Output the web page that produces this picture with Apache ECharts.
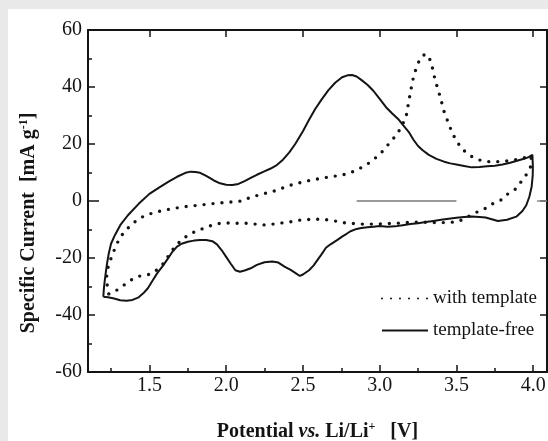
<!DOCTYPE html>
<html>
<head>
<meta charset="utf-8">
<script src="https://cdn.jsdelivr.net/npm/echarts@6/dist/echarts.min.js"></script>
<style>
  html, body { margin: 0; padding: 0; background: #e9e9e9; }
  #chart { width: 548px; height: 441px; }
</style>
</head>
<body>
<div id="chart"></div>
<script>
// Cyclic voltammograms: specific current vs. potential (one closed loop per sample)

// template-free electrode: anodic sweep 1.2 -> 4.0 V, then cathodic sweep back
const freePotential = [
  1.200, 1.203, 1.208, 1.216, 1.224, 1.235, 1.250, 1.275, 1.31, 1.36, 1.43, 1.50, 1.56, 1.625, 1.68,
  1.735, 1.77, 1.80, 1.83, 1.87, 1.92, 1.96, 2.00, 2.04, 2.08, 2.12, 2.16, 2.20, 2.245, 2.29,
  2.33, 2.37, 2.41, 2.45, 2.50, 2.54, 2.58, 2.62, 2.665, 2.71, 2.755, 2.79, 2.82, 2.85, 2.88,
  2.92, 2.96, 3.00, 3.04, 3.08, 3.12, 3.15, 3.19, 3.22, 3.25, 3.28, 3.32, 3.37, 3.42, 3.46,
  3.50, 3.55, 3.60, 3.65, 3.70, 3.75, 3.80, 3.85, 3.90, 3.94, 3.97, 3.995,
  3.998, 3.997, 3.99, 3.975, 3.955, 3.93, 3.89, 3.83, 3.77, 3.73, 3.69, 3.65, 3.60, 3.55, 3.50,
  3.45, 3.40, 3.35, 3.30, 3.25, 3.20, 3.15, 3.10, 3.05, 3.00, 2.96, 2.92, 2.88, 2.85, 2.81,
  2.785, 2.76, 2.72, 2.68, 2.65, 2.62, 2.60, 2.57, 2.54, 2.50, 2.48, 2.45, 2.42, 2.38, 2.34,
  2.30, 2.25, 2.20, 2.16, 2.12, 2.09, 2.06, 2.03, 2.00, 1.97, 1.94, 1.91, 1.87, 1.83, 1.79,
  1.75, 1.71, 1.68, 1.65, 1.62, 1.59, 1.55, 1.52, 1.49, 1.46, 1.43, 1.39, 1.35, 1.31, 1.27,
  1.23, 1.20
];
const freeCurrent = [
  -33.6, -31.0, -28.5, -25.0, -22.0, -18.5, -15.0, -12.0, -8.5, -5.0, -1.0, 2.5, 4.6, 6.8, 8.5,
  9.9, 10.3, 10.2, 9.9, 8.8, 7.2, 6.2, 5.7, 5.6, 6.0, 7.0, 8.1, 9.2, 10.3, 11.4,
  12.6, 14.5, 17.0, 20.0, 24.5, 28.5, 32.3, 35.5, 38.8, 41.5, 43.4, 44.1, 44.2, 43.7, 42.5,
  40.8, 38.6, 35.8, 33.0, 30.8, 28.8, 26.8, 24.2, 21.5, 19.3, 17.8, 16.2, 14.8, 13.8, 13.2,
  12.8, 12.3, 11.8, 11.9, 12.2, 12.4, 12.8, 13.4, 14.2, 14.8, 15.4, 16.2,
  12.0, 9.0, 5.0, 1.5, -1.5, -3.5, -5.5, -6.6, -7.0, -6.4, -5.8, -5.6, -5.4, -5.6, -5.9,
  -6.2, -6.6, -7.0, -7.4, -7.8, -8.1, -8.5, -8.9, -9.0, -8.8, -9.0, -9.2, -9.5, -9.8, -10.6,
  -11.5, -12.3, -13.8, -15.2, -16.4, -18.8, -20.3, -22.6, -24.3, -25.8, -26.3, -25.2, -24.2, -23.0, -21.6,
  -21.2, -21.5, -22.4, -23.6, -24.4, -24.8, -24.3, -22.0, -19.6, -17.2, -15.2, -14.1, -13.7, -13.7, -13.9,
  -14.3, -15.0, -16.0, -17.8, -20.2, -22.6, -25.4, -28.0, -30.6, -32.4, -33.8, -34.7, -35.0, -34.8, -34.2,
  -33.8, -33.6
];

// electrode prepared with template
const tplPotential = [
  1.235, 1.222, 1.222, 1.24, 1.262, 1.285, 1.31, 1.358, 1.414, 1.473, 1.53, 1.59, 1.647, 1.705, 1.76,
  1.82, 1.88, 1.935, 1.99, 2.05, 2.113, 2.157, 2.222, 2.276, 2.334, 2.391, 2.45, 2.508, 2.569, 2.623,
  2.677, 2.732, 2.797, 2.851, 2.912, 2.97, 3.02, 3.068, 3.116, 3.145, 3.172, 3.198, 3.216, 3.242, 3.268,
  3.296, 3.32, 3.336, 3.361, 3.394, 3.42, 3.448, 3.47, 3.496, 3.539, 3.593, 3.649, 3.708, 3.773, 3.84,
  3.90, 3.95, 3.985,
  3.99, 3.98, 3.968, 3.946, 3.926, 3.905, 3.882, 3.824, 3.789, 3.73, 3.672, 3.617, 3.556, 3.506, 3.454,
  3.40, 3.33, 3.22, 3.112, 2.96, 2.873, 2.808, 2.764, 2.699, 2.64, 2.591, 2.53, 2.482, 2.417, 2.36,
  2.308, 2.243, 2.189, 2.135, 2.07, 2.015, 1.96, 1.901, 1.842, 1.788, 1.733, 1.675, 1.631, 1.597, 1.565,
  1.538, 1.51, 1.484, 1.43, 1.371, 1.315, 1.256, 1.235
];
const tplCurrent = [
  -32.6, -28.5, -24.8, -21.6, -18.4, -15.4, -12.6, -9.6, -6.9, -5.0, -4.1, -3.3, -2.7, -2.2, -1.8,
  -1.5, -1.1, -0.8, -0.5, -0.3, 0.1, 1.3, 2.2, 3.0, 3.8, 5.1, 6.0, 6.8, 7.5, 8.0,
  8.5, 8.9, 9.6, 10.9, 12.6, 15.0, 17.5, 20.6, 23.6, 26.5, 29.5, 37.5, 42.5, 47.5, 50.2,
  51.6, 50.5, 48.5, 42.5, 36.6, 31.3, 27.3, 24.3, 21.4, 18.1, 15.8, 14.4, 13.8, 13.8, 14.1,
  14.6, 15.3, 15.8,
  13.5, 11.5, 10.3, 8.5, 7.1, 5.6, 4.1, 2.1, 0.3, -1.1, -3.2, -4.2, -6.1, -7.3, -7.5,
  -7.6, -7.5, -7.4, -7.8, -8.1, -8.1, -7.8, -7.6, -6.9, -6.5, -6.4, -6.5, -6.7, -7.3, -7.7,
  -8.1, -8.4, -8.1, -7.8, -7.8, -7.7, -7.8, -8.6, -9.8, -11.0, -12.7, -15.4, -18.6, -21.6, -23.4,
  -24.6, -25.5, -26.0, -26.4, -28.0, -30.3, -32.4, -32.6
];

// reference segment drawn along the zero-current level
const zeroSegment = [2.85, 3.5];

// axis ticks
const xMajorTicks = [1.5, 2.0, 2.5, 3.0, 3.5, 4.0];
const xMinorTicks = [1.25, 1.75, 2.25, 2.75, 3.25, 3.75];
const xLabels = ['1.5', '2.0', '2.5', '3.0', '3.5', '4.0'];

const seriesNames = ['with template', 'template-free'];

const zip = (xs, ys) => xs.map((x, i) => [x, ys[i]]);

const SERIF = '"Liberation Serif", "DejaVu Serif", serif';
const INK = '#141414';
const X_MIN = 1.1, X_MAX = 4.09;

const chart = echarts.init(document.getElementById('chart'), null, { renderer: 'canvas' });

const frameLine = { show: true, onZero: false, lineStyle: { color: INK, width: 2 } };
const noLabel = { show: false };
const noSplit = { show: false };

chart.setOption({
  backgroundColor: '#e9e9e9',
  animation: false,
  graphic: [{
    type: 'rect', z: -100, silent: true,
    shape: { x: 8, y: 9, width: 540, height: 432 },
    style: { fill: '#ffffff' }
  }],
  grid: { left: 88, right: 1, top: 30, bottom: 69, containLabel: false, outerBoundsMode: 'none' },
  legend: {
    orient: 'vertical',
    left: 381, top: 288,
    padding: 0,
    itemWidth: 46, itemHeight: 14, itemGap: 11,
    data: seriesNames,
    itemStyle: { opacity: 0 },
    textStyle: { fontFamily: SERIF, fontSize: 19, color: INK, lineHeight: 21 }
  },
  xAxis: [
    {
      type: 'value', position: 'bottom', min: X_MIN, max: X_MAX,
      axisLine: frameLine,
      axisTick: { show: true, inside: true, length: 7, customValues: xMajorTicks, lineStyle: { color: INK, width: 1.5 } },
      axisLabel: {
        show: true, margin: 4, customValues: xMajorTicks,
        formatter: v => xLabels[xMajorTicks.findIndex(t => Math.abs(t - v) < 1e-6)] ?? '',
        fontFamily: SERIF, fontSize: 20, color: INK
      },
      splitLine: noSplit,
      name: '{b|Potential }{i|vs.}{b| Li/Li}{sup|+}{b|   [V]}',
      nameLocation: 'middle', nameGap: 49,
      nameTextStyle: {
        rich: {
          b: { fontFamily: SERIF, fontSize: 20, fontWeight: 'bold', color: INK, lineHeight: 22 },
          i: { fontFamily: SERIF, fontSize: 20, fontWeight: 'bold', fontStyle: 'italic', color: INK, lineHeight: 22 },
          sup: { fontFamily: SERIF, fontSize: 12, fontWeight: 'bold', color: INK, lineHeight: 12, verticalAlign: 'top' }
        }
      }
    },
    {
      type: 'value', position: 'bottom', min: X_MIN, max: X_MAX,
      axisLine: { show: false, onZero: false },
      axisTick: { show: true, inside: true, length: 4, customValues: xMinorTicks, lineStyle: { color: INK, width: 1.5 } },
      axisLabel: noLabel, splitLine: noSplit
    },
    {
      type: 'value', position: 'top', min: X_MIN, max: X_MAX,
      axisLine: frameLine,
      axisTick: { show: true, inside: true, length: 7, customValues: xMajorTicks, lineStyle: { color: INK, width: 1.5 } },
      axisLabel: noLabel, splitLine: noSplit
    }
  ],
  yAxis: [
    {
      type: 'value', position: 'left', min: -60, max: 60, interval: 20,
      axisLine: frameLine,
      axisTick: { show: true, inside: true, length: 7, lineStyle: { color: INK, width: 1.5 } },
      minorTick: { show: true, splitNumber: 2, length: 4, lineStyle: { color: INK, width: 1.5 } },
      axisLabel: { show: true, margin: 6, fontFamily: SERIF, fontSize: 20, color: INK },
      splitLine: noSplit, minorSplitLine: noSplit,
      name: '{b|Specific Current  [mA g}{sup|-1}{b|]}',
      nameLocation: 'middle', nameGap: 48, nameRotate: 90,
      nameTextStyle: {
        padding: [0, 44, 0, 0],
        rich: {
          b: { fontFamily: SERIF, fontSize: 20, fontWeight: 'bold', color: INK, lineHeight: 22 },
          sup: { fontFamily: SERIF, fontSize: 12, fontWeight: 'bold', color: INK, lineHeight: 12, verticalAlign: 'top' }
        }
      }
    },
    {
      type: 'value', position: 'right', min: -60, max: 60, interval: 20,
      axisLine: frameLine,
      axisTick: { show: true, inside: true, length: 7, lineStyle: { color: INK, width: 1.5 } },
      axisLabel: noLabel, splitLine: noSplit
    },
    {
      type: 'value', position: 'left', min: -60, max: 60,
      axisLine: { show: false, onZero: false },
      axisTick: { show: true, inside: true, length: 11, customValues: [0], lineStyle: { color: INK, width: 1.5 } },
      axisLabel: noLabel, splitLine: noSplit
    },
    {
      type: 'value', position: 'right', min: -60, max: 60,
      axisLine: { show: false, onZero: false },
      axisTick: { show: true, inside: true, length: 10, customValues: [0], lineStyle: { color: '#8a8a8a', width: 1.5 } },
      axisLabel: noLabel, splitLine: noSplit
    }
  ],
  series: [
    {
      name: seriesNames[0],
      type: 'line',
      xAxisIndex: 0, yAxisIndex: 0,
      data: zip(tplPotential, tplCurrent),
      symbol: 'none',
      itemStyle: { color: INK },
      lineStyle: { color: INK, width: 3.4, type: [0, 9], cap: 'round' },
      z: 3
    },
    {
      name: seriesNames[1],
      type: 'line',
      xAxisIndex: 0, yAxisIndex: 0,
      data: zip(freePotential, freeCurrent),
      symbol: 'none',
      itemStyle: { color: INK },
      lineStyle: { color: INK, width: 2 },
      markLine: {
        silent: true, symbol: 'none', label: { show: false },
        lineStyle: { color: '#9a9a9a', width: 2, type: 'solid' },
        data: [[{ coord: [zeroSegment[0], 0] }, { coord: [zeroSegment[1], 0] }]]
      },
      z: 3
    }
  ]
});
</script>
</body>
</html>
